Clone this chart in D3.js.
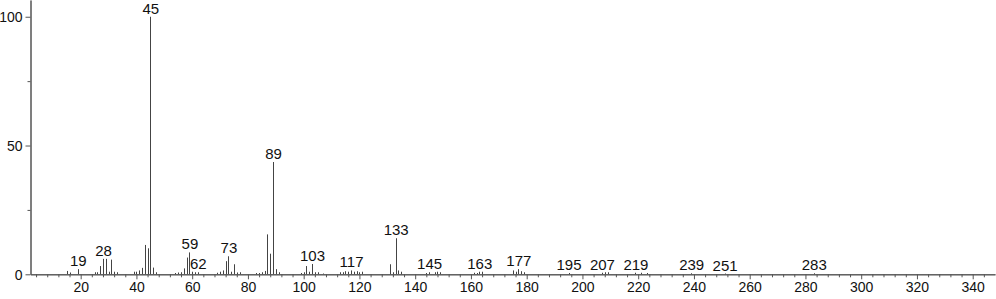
<!DOCTYPE html>
<html><head><meta charset="utf-8">
<script src="https://cdn.jsdelivr.net/npm/d3@7"></script>
<style>
body{margin:0;background:#fff;}
svg{display:block;}
text{font-family:"Liberation Sans",Arial,sans-serif;}
</style></head>
<body><svg id="c" width="996" height="299"></svg>
<script>
const mz = [15,16,19,25,26,27,28,29,30,31,32,33,39,40,41,42,43,44,45,46,47,
  54,55,56,57,58,59,60,61,62,69,70,71,72,73,74,75,76,77,83,84,85,86,87,88,89,90,91,
  99,100,101,102,103,104,105,107,113,114,115,116,117,118,119,120,121,
  131,132,133,134,135,144,145,147,148,149,161,162,163,164,175,176,177,178,179,
  195,207,208,209,219,221,223,239,251,283];
const intensity = [1.3,0.7,2.0,0.8,0.8,3.2,6.0,6.0,1.0,5.7,1.0,0.8,1.0,1.0,1.5,2.5,11.4,10.1,100,2.6,0.8,
  0.5,0.7,0.8,2.3,6.5,8.5,1.0,0.8,0.8,0.6,1.0,1.5,5.1,7.0,1.0,3.9,0.7,0.8,0.5,0.5,0.8,1.3,15.5,8.0,43.6,2.0,0.8,
  0.5,0.8,3.2,1.0,4.0,0.8,0.8,0.3,0.8,0.8,1.2,1.0,1.5,1.0,1.2,0.8,1.0,
  3.9,0.8,14.0,1.5,1.0,0.5,0.8,0.8,1.0,0.8,0.6,0.5,1.0,1.0,1.5,1.0,2.0,1.2,0.8,
  0.5,0.6,0.8,0.8,0.6,0.6,0.5,0.4,0.3,0.4];
const labeledPeaks = [19,28,45,59,62,73,89,103,117,133,145,163,177,195,207,219,239,251,283];
const xMajorTicks = [20,40,60,80,100,120,140,160,180,200,220,240,260,280,300,320,340];
const xMinorTicks = d3.range(4, 348, 4).filter(v => v % 20 !== 0);
const yMajorTicks = [0,50,100];
const yMinorTicks = [25,75];

const svg = d3.select("#c");
const x = d3.scaleLinear().domain([2, 348]).range([30.5, 995]);
const y = d3.scaleLinear().domain([0, 106.5]).range([274.3, 0]);
const peaks = mz.map((m,i)=>({m, v:intensity[i]}));
const axisColor = "#555";

// peaks
svg.append("g").selectAll("line").data(peaks).join("line")
  .attr("x1", d=>Math.round(x(d.m))+0.5).attr("x2", d=>Math.round(x(d.m))+0.5)
  .attr("y1", y(0)).attr("y2", d=>y(d.v))
  .attr("stroke", "#444").attr("stroke-width", 1);

// x axis
const gxMinor = svg.append("g").attr("transform", `translate(0,${y(0)})`)
  .call(d3.axisBottom(x).tickValues(xMinorTicks).tickSize(3).tickSizeOuter(0).tickFormat(""));
const gx = svg.append("g").attr("transform", `translate(0,${y(0)})`)
  .call(d3.axisBottom(x).tickValues(xMajorTicks).tickSize(5).tickSizeOuter(0).tickFormat(d3.format("d")));
[gxMinor, gx].forEach(g=>{
  g.select(".domain").attr("stroke", axisColor);
  g.selectAll(".tick line").attr("stroke", axisColor);
});
gx.selectAll(".tick text").attr("y", 18).attr("dy", 0).attr("fill", "#111")
  .style("font-size", "14px").style("font-family", '"Liberation Sans",Arial,sans-serif');

// y axis
const gyMinor = svg.append("g").attr("transform", `translate(${x.range()[0]},0)`)
  .call(d3.axisLeft(y).tickValues(yMinorTicks).tickSize(3).tickSizeOuter(0).tickFormat(""));
const gy = svg.append("g").attr("transform", `translate(${x.range()[0]},0)`)
  .call(d3.axisLeft(y).tickValues(yMajorTicks).tickSize(5).tickSizeOuter(0).tickFormat(d3.format("d")));
[gyMinor, gy].forEach(g=>{
  g.select(".domain").attr("stroke", axisColor);
  g.selectAll(".tick line").attr("stroke", axisColor);
});
gy.selectAll(".tick text").attr("x", -8).attr("dy", "0.35em").attr("fill", "#111")
  .style("font-size", "14px").style("font-family", '"Liberation Sans",Arial,sans-serif');

// peak labels
const lab = peaks.filter(d=>labeledPeaks.includes(d.m));
svg.append("g").selectAll("text").data(lab).join("text")
  .attr("x", d=>x(d.m)+0.5).attr("y", d=>y(d.v)-3)
  .attr("text-anchor","middle").attr("fill","#111")
  .style("font-size","15px")
  .text(d=>d.m);
</script></body></html>
